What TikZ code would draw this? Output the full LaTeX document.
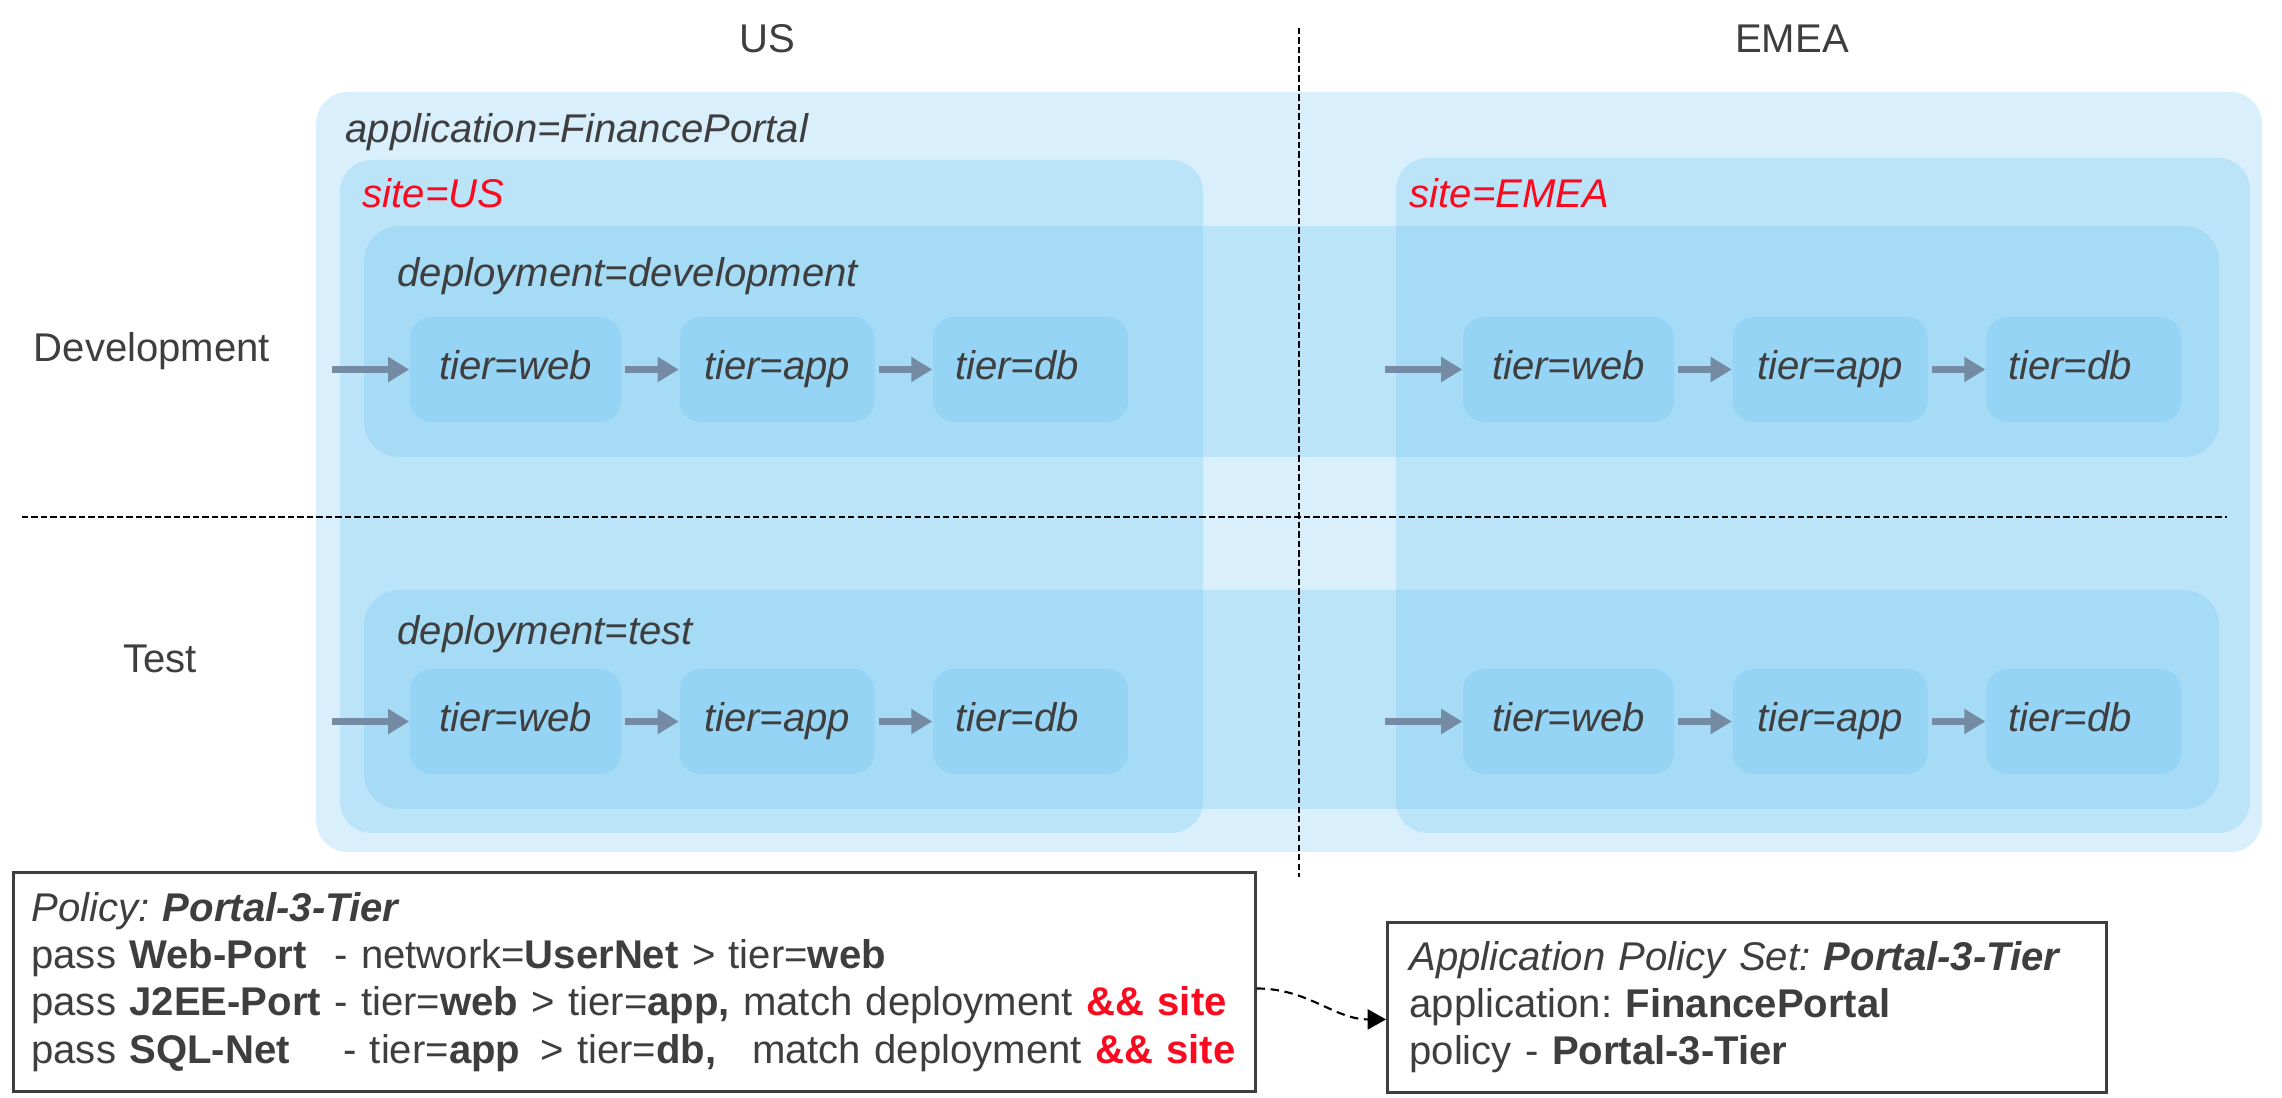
\documentclass[tikz,border=0pt]{standalone}
\usepackage{fontspec}
\setmainfont{Liberation Sans}
\usepackage{tikz}
\usetikzlibrary{positioning, arrows.meta}
\definecolor{ZoneBlue}{RGB}{95, 190, 238}
\definecolor{InkGrey}{RGB}{62, 62, 62}
\definecolor{FlowSlate}{RGB}{116, 139, 163}
\definecolor{SiteRed}{RGB}{250, 10, 30}
\newcommand{\labelsize}{\fontsize{11.4pt}{13.4pt}\selectfont}
\frenchspacing

\tikzset{
  zone/.style={fill=ZoneBlue, fill opacity=0.24},
  tierbox/.style={zone, rounded corners=6pt, minimum width=1.95cm, minimum height=1.05cm, inner sep=0pt,
    text opacity=1, font=\labelsize\itshape, text height=8.2pt, text depth=2.4pt},
  flow/.style={draw=FlowSlate, line width=1.9pt, -{Triangle[length=6pt, width=6.8pt]}},
  zonelabel/.style={anchor=base west, inner sep=0pt, font=\labelsize\itshape},
  axislabel/.style={anchor=base, inner sep=0pt, font=\labelsize},
  guide/.style={draw=black, line width=0.45pt, dash pattern=on 1.8pt off 0.9pt},
  policybox/.style={draw=InkGrey, line width=0.8pt, anchor=north west, align=left, inner xsep=0.18cm, font=\labelsize},
  link/.style={draw=black, line width=0.6pt, dash pattern=on 2.4pt off 1.6pt, -{Triangle[length=5.2pt, width=5.7pt]}}
}

\begin{document}
\begin{tikzpicture}[x=0.01cm, y=-0.01cm, text=InkGrey]
    \useasboundingbox (0,0) rectangle (2282,1098);

    % Zonas
    \fill[zone, rounded corners=9pt] (316,92) rectangle (2262,852);
    \fill[zone, rounded corners=9pt] (340,160) rectangle (1203,833);
    \fill[zone, rounded corners=9pt] (1396,158) rectangle (2250,833);
    \fill[zone, rounded corners=10pt] (364,226) rectangle (2219,457);
    \fill[zone, rounded corners=10pt] (364,590) rectangle (2219,809);

    % Separadores
    \draw[guide] (1299,28) -- (1299,877);
    \draw[guide] (22,517) -- (2227,517);

    % Ejes
    \node[axislabel] (us) at (767,53) {US};
    \node[axislabel] (emea) at (1792,53) {EMEA};
    \node[axislabel] (devrow) at (152,362) {Development};
    \node[axislabel] (testrow) at (160,673) {Test};

    % Etiquetas de zona
    \node[zonelabel] (appzone) at (345,143) {application=FinancePortal};
    \node[zonelabel, text=SiteRed] (uszone) at (362,208) {site=US};
    \node[zonelabel, text=SiteRed] (emeazone) at (1409,208) {site=EMEA};
    \node[zonelabel] (devzone) at (397,287) {deployment=development};
    \node[zonelabel] (testzone) at (397,645) {deployment=test};

    % Tiers
    \foreach \site/\x in {us/515.5, emea/1568.5}
      \foreach \row/\y in {dev/369.5, test/721.5} {
        \node[tierbox, minimum width=2.11cm] (\site\row web) at (\x,\y) {tier=web};
        \node[tierbox, right=0.57cm of \site\row web] (\site\row app) {tier=app};
        \node[tierbox, right=0.57cm of \site\row app, text width=1.51cm, align=left] (\site\row db) {tier=db};
        \coordinate[left=0.77cm of \site\row web] (\site\row in);
        \draw[flow] (\site\row in) -- (\site\row web);
        \draw[flow, shorten <=1pt] (\site\row web) -- (\site\row app);
        \draw[flow, shorten <=1pt] (\site\row app) -- (\site\row db);
      }

    % Politicas
    \node[policybox, minimum width=12.41cm, minimum height=2.19cm, text width=12.05cm] (policy) at (12,871) {%
      \textit{Policy:} \textbf{\textit{Portal-3-Tier}}\\
      pass \rlap{\textbf{Web-Port}}\hphantom{\textbf{J2EE-Port}} - network=\textbf{UserNet} > tier=\textbf{web}\\
      pass \textbf{J2EE-Port} - tier=\textbf{web} > tier=\textbf{app,} match deployment \textcolor{SiteRed}{\textbf{\&\& site}}\\
      \mbox{pass \rlap{\textbf{SQL-Net}}\hphantom{\textbf{J2EE-Port}}\hspace{2.5pt} - tier=\rlap{\textbf{app}}\hphantom{\textbf{web}} > tier=\rlap{\textbf{db,}}\hphantom{\textbf{app,}} match deployment \textcolor{SiteRed}{\textbf{\&\& site}}}};
    \node[policybox, minimum width=7.19cm, minimum height=1.70cm, text width=6.75cm, inner xsep=0.22cm] (policyset) at (1386,921) {%
      \textit{Application Policy Set:} \textbf{\textit{Portal-3-Tier}}\\
      application: \textbf{FinancePortal}\\
      policy - \textbf{Portal-3-Tier}};

    \draw[link] ([yshift=-1.85pt]policy.east) to[out=0, in=180] ([yshift=-3.4pt]policyset.west);
\end{tikzpicture}
\end{document}
